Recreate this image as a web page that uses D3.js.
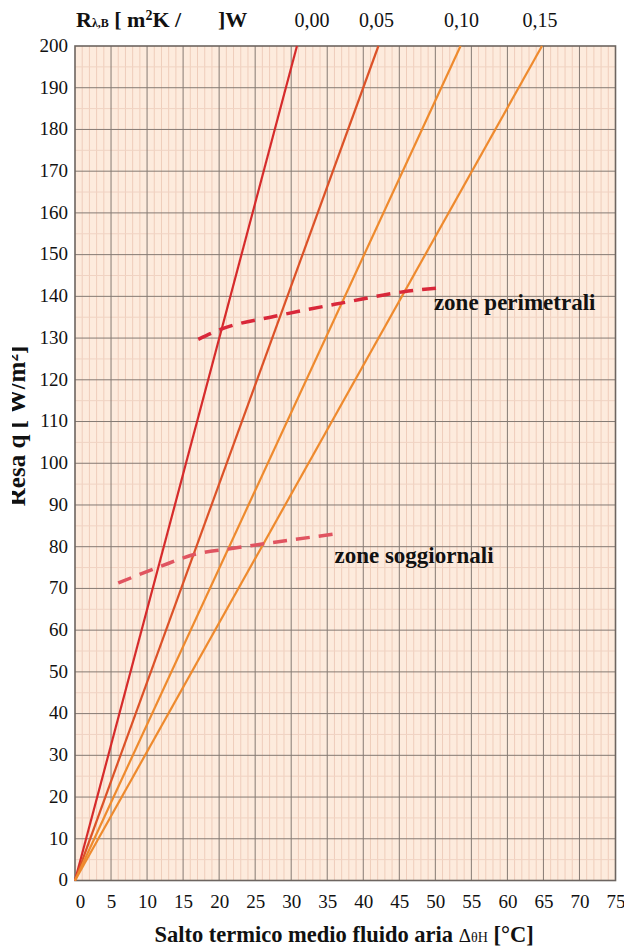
<!DOCTYPE html>
<html>
<head>
<meta charset="utf-8">
<script src="https://cdn.jsdelivr.net/npm/d3@7"></script>
<style>
  html, body { margin: 0; padding: 0; background: #fff; }
  svg, svg text { font-family: "Liberation Serif", "DejaVu Serif", "Times New Roman", Times, serif !important; }
</style>
</head>
<body>
<svg id="chart" width="624" height="949"></svg>
<script>
// Floor-heating output q versus mean fluid/air temperature difference,
// one straight characteristic per floor covering resistance R (m²K/W).
const resistances = ["0,00", "0,05", "0,10", "0,15"];
const deltaAtMax = [30.8, 42.1, 53.5, 64.8];   // Δθ where each line reaches q = 200
const qMax = 200;
const lineColors = ["#d62b2b", "#dc5228", "#ee8a2e", "#ee8a2e"];

// Design limit curves (Δθ, q)
const perimeterZone = [[17.1, 129.7], [20.1, 132.0], [28.5, 135.5], [37.3, 138.5], [45.6, 141.1], [50.9, 142.1]];
const livingZone = [[6.0, 71.3], [11.6, 75.1], [16.9, 78.3], [21.5, 79.5], [26.2, 80.7], [36.3, 83.1]];

const xTicks = d3.range(0, 76, 5);
const yTicks = d3.range(0, 201, 10);

const svg = d3.select("#chart");
const plotLeft = 75, plotRight = 615.5, plotTop = 46, plotBottom = 880.5;

const x = d3.scaleLinear().domain([0, 75]).range([plotLeft, plotRight]);
const y = d3.scaleLinear().domain([0, 200]).range([plotBottom, plotTop]);

// plot background
svg.append("rect")
  .attr("x", plotLeft).attr("y", plotTop)
  .attr("width", plotRight - plotLeft).attr("height", plotBottom - plotTop)
  .attr("fill", "#fdebdd");

const grid = svg.append("g");
// minor verticals every 1 °C
grid.selectAll("line.vmin").data(d3.range(1, 75).filter(v => v % 5 !== 0)).join("line")
  .attr("x1", d => x(d)).attr("x2", d => x(d))
  .attr("y1", plotTop).attr("y2", plotBottom)
  .attr("stroke", "#efcdbb").attr("stroke-width", 1);
// minor horizontals every 5 W/m²
grid.selectAll("line.hmin").data(d3.range(5, 200, 10)).join("line")
  .attr("x1", plotLeft).attr("x2", plotRight)
  .attr("y1", d => y(d)).attr("y2", d => y(d))
  .attr("stroke", "#f0d3c3").attr("stroke-width", 1);
// major verticals
grid.selectAll("line.vmaj").data(xTicks.slice(1, -1)).join("line")
  .attr("x1", d => x(d)).attr("x2", d => x(d))
  .attr("y1", plotTop).attr("y2", plotBottom)
  .attr("stroke", "#857a73").attr("stroke-width", 1);
// major horizontals
grid.selectAll("line.hmaj").data(yTicks.slice(1, -1)).join("line")
  .attr("x1", plotLeft).attr("x2", plotRight)
  .attr("y1", d => y(d)).attr("y2", d => y(d))
  .attr("stroke", "#857a73").attr("stroke-width", 1);

// frame
svg.append("rect")
  .attr("x", plotLeft).attr("y", plotTop)
  .attr("width", plotRight - plotLeft).attr("height", plotBottom - plotTop)
  .attr("fill", "none").attr("stroke", "#6d6560").attr("stroke-width", 1.6);

// characteristic lines
const lineGen = d3.line().x(d => x(d[0])).y(d => y(d[1]));
svg.append("g").selectAll("path").data(deltaAtMax).join("path")
  .attr("d", d => lineGen([[0, 0], [d, qMax]]))
  .attr("fill", "none")
  .attr("stroke", (d, i) => lineColors[i])
  .attr("stroke-width", 2.2);

// design limit curves
const curveGen = d3.line().x(d => x(d[0])).y(d => y(d[1])).curve(d3.curveMonotoneX);
svg.append("path").attr("d", curveGen(perimeterZone))
  .attr("fill", "none").attr("stroke", "#d9283a")
  .attr("stroke-width", 3.5).attr("stroke-dasharray", "14,9");
svg.append("path").attr("d", curveGen(livingZone))
  .attr("fill", "none").attr("stroke", "#e05460")
  .attr("stroke-width", 3.5).attr("stroke-dasharray", "14,9");

svg.append("text").attr("x", x(49.8)).attr("y", y(136.8))
  .attr("font-size", 23).attr("font-weight", "bold").attr("fill", "#111")
  .text("zone perimetrali");
svg.append("text").attr("x", x(36.0)).attr("y", y(76.0))
  .attr("font-size", 23).attr("font-weight", "bold").attr("fill", "#111")
  .text("zone soggiornali");

// axis tick labels
const xAxis = d3.axisBottom(x).tickValues(xTicks).tickSize(0).tickPadding(14);
const gx = svg.append("g").attr("transform", `translate(0,${plotBottom})`).call(xAxis);
gx.select(".domain").remove();
gx.selectAll("text").attr("font-size", 19).attr("fill", "#111")
  .attr("dx", d => d === 0 ? 5 : 0);

const yAxis = d3.axisLeft(y).tickValues(yTicks).tickSize(0).tickPadding(7);
const gy = svg.append("g").attr("transform", `translate(${plotLeft},0)`).call(yAxis);
gy.select(".domain").remove();
gy.selectAll("text").attr("font-size", 19).attr("fill", "#111")
  .attr("dy", "0.28em");

// x title
const xt = svg.append("text").attr("x", 344).attr("y", 942)
  .attr("text-anchor", "middle").attr("font-size", 22.5).attr("font-weight", "bold").attr("fill", "#111");
xt.append("tspan").text("Salto termico medio fluido aria  ");
xt.append("tspan").attr("font-weight", "normal").attr("font-size", 19).text("Δ");
xt.append("tspan").attr("font-weight", "normal").attr("font-size", 14).text("θH");
xt.append("tspan").text(" [°C]");

// y title, partially cut at the page edge
svg.append("defs").append("clipPath").attr("id", "ytclip")
  .append("rect").attr("x", 12).attr("y", 250).attr("width", 40).attr("height", 320);
svg.append("g").attr("clip-path", "url(#ytclip)")
  .append("text")
  .attr("transform", "translate(25,426) rotate(-90)")
  .attr("text-anchor", "middle").attr("font-size", 25).attr("font-weight", "bold").attr("fill", "#111")
  .text("Resa q  [ W/m²]");

// header with resistance labels
const hdr = svg.append("text").attr("x", 76).attr("y", 27)
  .attr("font-size", 22).attr("font-weight", "bold").attr("fill", "#111");
hdr.append("tspan").text("R");
hdr.append("tspan").attr("font-size", 12).text("λ,B");
hdr.append("tspan").text("  [ m");
hdr.append("tspan").attr("font-size", 14).attr("dy", -7).text("2");
hdr.append("tspan").attr("dy", 7).text("K /");
svg.append("text").attr("x", 218).attr("y", 27)
  .attr("font-size", 22).attr("font-weight", "bold").attr("fill", "#111")
  .text("]W");

const headerNudge = [15, -2, 1, -2];
svg.append("g").selectAll("text").data(resistances).join("text")
  .attr("x", (d, i) => x(deltaAtMax[i]) + headerNudge[i])
  .attr("y", 27)
  .attr("text-anchor", "middle").attr("font-size", 20).attr("fill", "#111")
  .text(d => d);
</script>
</body>
</html>
